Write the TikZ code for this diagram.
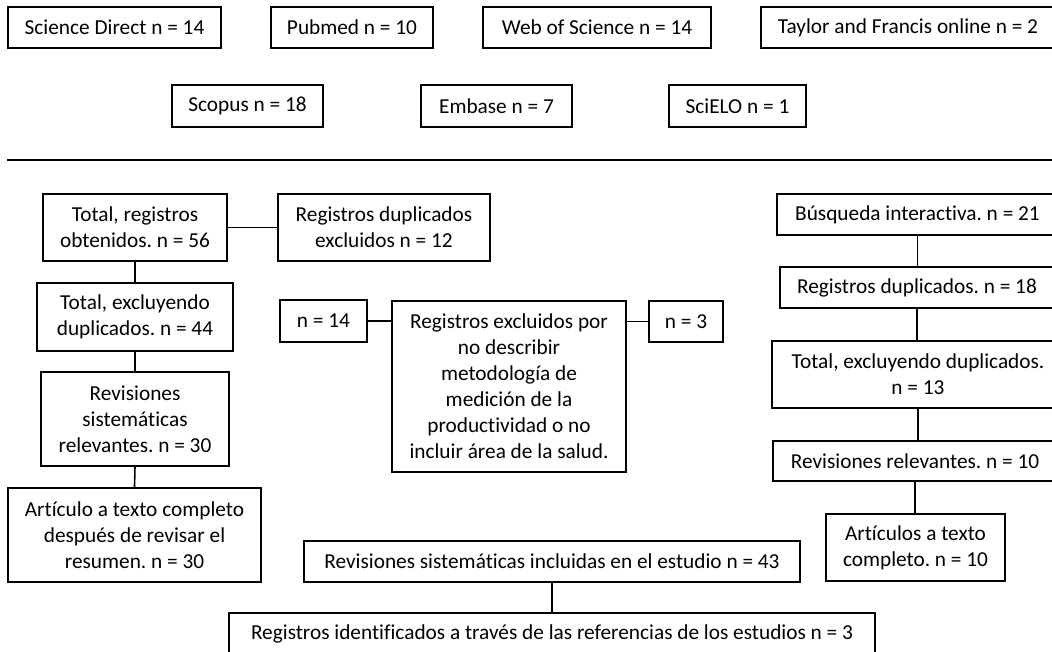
\documentclass[tikz,border=0pt]{standalone}
\usepackage{fontspec}
\setmainfont{Carlito}[Ligatures={NoCommon}]
\frenchspacing
\begin{document}
\begin{tikzpicture}[x=1pt,y=-1pt,
  box/.style={draw, line width=1.6pt, inner sep=0pt, align=center, anchor=center,
    font=\fontsize{21.3}{26}\selectfont},
  conn/.style={line width=1.6pt}]
\useasboundingbox (0,0) rectangle (1052,652);
\clip (0,0) rectangle (1052,652);
% top databases
\node[box, minimum width=213, minimum height=41] (sd)  at (114.5,27.5) {Science Direct n = 14};
\node[box, minimum width=162, minimum height=41] (pm)  at (352,27.5) {Pubmed n = 10};
\node[box, minimum width=228, minimum height=41] (wos) at (597,27.5) {Web of Science n = 14};
\node[box, minimum width=294, minimum height=41] (tf)  at (908,27.5) {Taylor and Francis online n = 2};
\node[box, minimum width=151, minimum height=42] (sc)  at (247.5,106) {Scopus n = 18};
\node[box, minimum width=151, minimum height=42] (em)  at (496.5,106) {Embase n = 7};
\node[box, minimum width=137, minimum height=42] (se)  at (737.5,106) {SciELO n = 1};
\coordinate (hl1) at (7,160);
\coordinate (hl2) at (1060,160);
\draw[conn] (hl1) -- (hl2);
% left column
\node[box, minimum width=184, minimum height=67] (tot)  at (135,227.5) {Total, registros\\obtenidos. n = 56};
\node[box, minimum width=212, minimum height=67] (dupx) at (384,227.5) {Registros duplicados\\excluidos n = 12};
\node[box, minimum width=196, minimum height=68] (excl) at (135,317) {Total, excluyendo\\duplicados. n = 44};
\node[box, minimum width=188, minimum height=94] (rev)  at (135,419) {Revisiones\\sistemáticas\\relevantes. n = 30};
\node[box, minimum width=253, minimum height=94] (art)  at (134.5,535) {Artículo a texto completo\\después de revisar el\\resumen. n = 30};
% middle
\node[box, minimum width=87, minimum height=42] (n14) at (323.5,321) {n = 14};
\node[box, minimum width=234, minimum height=171] (big) at (509,386.5) {Registros excluidos por\\no describir\\metodología de\\medición de la\\productividad o no\\incluir área de la salud.};
\node[box, minimum width=74, minimum height=41] (n3) at (686,321.5) {n = 3};
% right column
\node[box, minimum width=281, minimum height=41] (bus)   at (917.5,214.5) {Búsqueda interactiva. n = 21};
\node[box, minimum width=274, minimum height=41] (rd18)  at (917,287.5) {Registros duplicados. n = 18};
\node[box, minimum width=292, minimum height=67] (tot13) at (918,374.5) {Total, excluyendo duplicados.\\n = 13};
\node[box, minimum width=284, minimum height=40] (rr10)  at (915,461) {Revisiones relevantes. n = 10};
\node[box, minimum width=179, minimum height=67] (art10) at (915.5,547.5) {Artículos a texto\\completo. n = 10};
% bottom
\node[box, minimum width=496, minimum height=41] (inc43) at (552,561.5) {Revisiones sistemáticas incluidas en el estudio n = 43};
\node[box, minimum width=646, minimum height=42] (reg3)  at (552,634) {Registros identificados a través de las referencias de los estudios n = 3};
% connectors
\draw[conn] (tot.east) -- (dupx.west);
\draw[conn] (tot.south) -- (excl.north);
\draw[conn] (excl.south) -- (rev.north);
\draw[conn] (rev.south) -- (art.north);
\draw[conn] (n14.east) -- (n14.east -| big.west);
\draw[conn] (n3.west) -- (n3.west -| big.east);
\draw[conn] (bus.south) -- (bus.south |- rd18.north);
\draw[conn] (rd18.south) -- (rd18.south |- tot13.north);
\draw[conn] (tot13.south) -- (tot13.south |- rr10.north);
\draw[conn] (rr10.south) -- (rr10.south |- art10.north);
\draw[conn] (inc43.south) -- (inc43.south |- reg3.north);
\end{tikzpicture}
\end{document}
